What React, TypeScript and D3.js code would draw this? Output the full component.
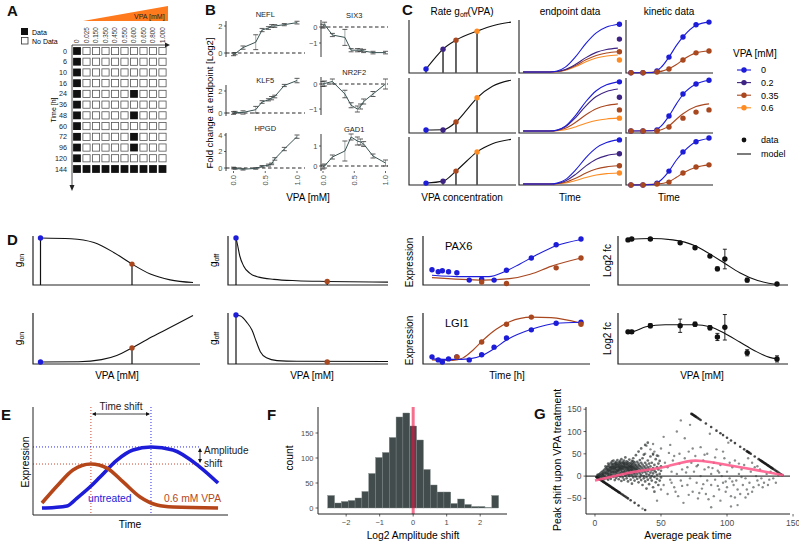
import React from "react";
import * as d3 from "d3";

type P = [number, number];

const FONT = "'Liberation Sans', Arial, Helvetica, sans-serif";
const BLUE = "#1c1cd9";
const PURPLE = "#3d2383";
const BROWN = "#a9471f";
const ORANGE = "#ff8c22";
const VPA_COLORS = [BLUE, PURPLE, BROWN, ORANGE];
const AXIS = "#222";
const TICK_TXT = "#4d4d4d";

// ---------------- Panel A data
const A_CONC = ["0", "0.025", "0.150", "0.350", "0.450", "0.550", "0.600", "0.650", "0.800", "1.000"];
const A_TIMES = [0, 6, 10, 16, 24, 36, 48, 60, 72, 96, 120, 144];
const A_MATRIX = [
  "1000000000", "1000000000", "1000000000", "1000000000",
  "1000001000", "1000000000", "1000001000", "1000000000",
  "1000001000", "1000001000", "1000000000", "1111111111",
];

// ---------------- Panel B data
const B_VPA = [0, 0.025, 0.15, 0.35, 0.45, 0.55, 0.6, 0.65, 0.8, 1.0];
const B_X_TICKS = [0, 0.5, 1.0];
const B_NEFL = [-0.1, -0.05, 0.4, 0.8, 1.7, 1.85, 2.0, 2.0, 2.1, 2.25];
const B_NEFL_ERR = [0.1, 0.08, 0.12, 0.55, 0.12, 0.1, 0.1, 0.1, 0.08, 0.1];
const B_SIX3 = [0.05, 0.15, -0.5, -0.65, -1.45, -1.45, -1.45, -1.5, -1.6, -1.6];
const B_SIX3_ERR = [0.12, 0.15, 0.1, 0.5, 0.1, 0.1, 0.08, 0.1, 0.08, 0.08];
const B_KLF5 = [0.0, 0.05, 0.05, 0.3, 1.0, 1.2, 1.35, 1.5, 2.5, 2.95];
const B_KLF5_ERR = [0.12, 0.1, 0.15, 0.3, 0.12, 0.1, 0.15, 0.12, 0.1, 0.2];
const B_NR2F2 = [0.0, 0.02, 0.1, -0.4, -0.85, -1.0, -0.9, -0.7, -0.4, 0.0];
const B_NR2F2_ERR = [0.1, 0.1, 0.1, 0.15, 0.1, 0.12, 0.1, 0.1, 0.1, 0.2];
const B_HPGD = [0.0, -0.05, -0.15, -0.05, 0.2, 0.35, 0.5, 1.1, 2.3, 3.8];
const B_HPGD_ERR = [0.1, 0.1, 0.1, 0.1, 0.1, 0.12, 0.1, 0.15, 0.2, 0.2];
const B_GAD1 = [-0.05, 0.0, 0.45, 0.75, 1.45, 1.25, 1.2, 1.1, 0.5, 0.15];
const B_GAD1_ERR = [0.1, 0.1, 0.1, 0.5, 0.15, 0.2, 0.15, 0.12, 0.1, 0.15];
const B_PANELS = [
  { name: "NEFL", vals: B_NEFL, err: B_NEFL_ERR, ticks: [0, 2] },
  { name: "SIX3", vals: B_SIX3, err: B_SIX3_ERR, ticks: [-1, 0] },
  { name: "KLF5", vals: B_KLF5, err: B_KLF5_ERR, ticks: [0, 2] },
  { name: "NR2F2", vals: B_NR2F2, err: B_NR2F2_ERR, ticks: [-1, 0] },
  { name: "HPGD", vals: B_HPGD, err: B_HPGD_ERR, ticks: [0, 2, 4] },
  { name: "GAD1", vals: B_GAD1, err: B_GAD1_ERR, ticks: [0, 1] },
];

// ---------------- Panel C data
const C_LEVELS = ["0", "0.2", "0.35", "0.6"];
const C_RATE_X = [0.159, 0.318, 0.439, 0.636];
const C_RATE_Y = [
  [0.075, 0.45, 0.62, 0.79],
  [0.055, 0.055, 0.2, 0.64],
  [0.04, 0.08, 0.29, 0.69],
];
const C_RATE_CURVES: P[][] = [
  [[0.159, 0.075], [0.25, 0.3], [0.318, 0.45], [0.439, 0.62], [0.636, 0.79], [0.8, 0.9], [0.953, 0.96]],
  [[0.159, 0.055], [0.318, 0.058], [0.439, 0.2], [0.54, 0.42], [0.636, 0.64], [0.78, 0.85], [0.953, 0.96]],
  [[0.159, 0.04], [0.318, 0.08], [0.439, 0.29], [0.54, 0.5], [0.636, 0.69], [0.78, 0.86], [0.953, 0.95]],
];
const C_SIG_T = [0.04, 0.3, 0.37, 0.45, 0.55, 0.65, 0.75, 0.85, 0.96];
const C_SIG_V = [0, 0, 0.02, 0.1, 0.32, 0.6, 0.82, 0.94, 1.0];
const C_END_BASE = [0.02, 0.036, 0.02];
const C_END_MODEL = [
  [0.92, 0.47, 0.4, 0.34],
  [0.93, 0.8, 0.53, 0.27],
  [0.94, 0.65, 0.4, 0.25],
];
const C_END_DATA_T = 0.975;
const C_END_DATA = [
  [0.92, 0.64, 0.4, 0.245],
  [0.93, 0.65, 0.42, 0.27],
  [0.94, 0.65, 0.4, 0.25],
];
const C_KIN_T = [0.057, 0.195, 0.356, 0.494, 0.655, 0.805, 0.954];
const C_KIN_BLUE = [
  [0.005, 0.005, 0.04, 0.3, 0.68, 0.91, 0.96],
  [0.036, 0.036, 0.055, 0.31, 0.71, 0.89, 0.96],
  [0.0, 0.0, 0.04, 0.29, 0.69, 0.9, 0.98],
];
const C_KIN_BROWN = [
  [0.005, 0.005, 0.02, 0.075, 0.245, 0.38, 0.415],
  [0.036, 0.036, 0.036, 0.11, 0.27, 0.38, 0.42],
  [0.0, 0.0, 0.02, 0.06, 0.25, 0.375, 0.42],
];
const C_KIN_BLUE_MODEL: P[][] = [
  [[0.023, 0.005], [0.3, 0.01], [0.4, 0.1], [0.494, 0.3], [0.58, 0.52], [0.655, 0.68], [0.805, 0.9], [0.954, 0.96]],
  [[0.023, 0.036], [0.3, 0.04], [0.4, 0.12], [0.494, 0.31], [0.58, 0.53], [0.655, 0.7], [0.805, 0.89], [0.954, 0.96]],
  [[0.023, 0.0], [0.3, 0.01], [0.4, 0.1], [0.494, 0.29], [0.58, 0.52], [0.655, 0.68], [0.805, 0.9], [0.954, 0.97]],
];
const C_KIN_BROWN_MODEL: P[][] = [
  [[0.023, 0.005], [0.356, 0.02], [0.494, 0.08], [0.58, 0.16], [0.655, 0.25], [0.805, 0.38], [0.954, 0.415]],
  [[0.023, 0.036], [0.356, 0.045], [0.494, 0.13], [0.58, 0.25], [0.655, 0.35], [0.805, 0.48], [0.954, 0.53]],
  [[0.023, 0.0], [0.356, 0.02], [0.494, 0.07], [0.58, 0.16], [0.655, 0.25], [0.805, 0.37], [0.954, 0.42]],
];

// ---------------- Panel D data
const D_GON: P[][] = [
  [[0, 1], [0.2, 0.985], [0.35, 0.9], [0.48, 0.68], [0.6, 0.42], [0.72, 0.2], [0.85, 0.07], [1, 0.01]],
  [[0, 0], [0.25, 0.005], [0.4, 0.05], [0.5, 0.14], [0.6, 0.3], [0.7, 0.48], [0.8, 0.65], [0.9, 0.82], [1, 0.99]],
];
const D_GOFF: P[][] = [
  [[0, 1], [0.01, 0.85], [0.025, 0.6], [0.05, 0.38], [0.09, 0.22], [0.15, 0.13], [0.25, 0.08], [0.4, 0.05], [0.6, 0.035], [1, 0.02]],
  [[0, 1], [0.03, 0.98], [0.07, 0.85], [0.105, 0.68], [0.135, 0.42], [0.16, 0.22], [0.2, 0.09], [0.27, 0.03], [0.4, 0.015], [1, 0.01]],
];
const D_MARK_X = [0, 0.6];
const D_TIMES = [0, 6, 10, 16, 24, 36, 48, 60, 72, 96, 120, 144];
const D_PAX6_BLUE = [0.31, 0.27, 0.29, 0.27, 0.25, 0.1, 0.12, 0.1, 0.3, 0.55, 0.82, 0.94];
const D_PAX6_BROWN_T = [48, 72, 120, 144];
const D_PAX6_BROWN = [0.06, 0.03, 0.35, 0.55];
const D_PAX6_BLUE_MODEL: P[] = [[0, 0.2], [30, 0.17], [55, 0.17], [70, 0.27], [85, 0.43], [100, 0.6], [120, 0.8], [144, 0.93]];
const D_PAX6_BROWN_MODEL: P[] = [[0, 0.15], [50, 0.1], [75, 0.13], [95, 0.22], [115, 0.38], [144, 0.55]];
const D_LGI1_BLUE = [0.14, 0.08, 0.04, 0.1, 0.14, 0.08, 0.18, 0.33, 0.51, 0.67, 0.8, 0.82];
const D_LGI1_BROWN_T = [24, 48, 72, 96, 144];
const D_LGI1_BROWN = [0.14, 0.43, 0.78, 0.92, 0.78];
const D_LGI1_BLUE_MODEL: P[] = [[0, 0.1], [20, 0.09], [36, 0.1], [48, 0.16], [60, 0.3], [72, 0.47], [96, 0.68], [120, 0.8], [144, 0.82]];
const D_LGI1_BROWN_MODEL: P[] = [[0, 0.08], [20, 0.07], [30, 0.12], [40, 0.28], [50, 0.48], [62, 0.68], [75, 0.83], [96, 0.92], [115, 0.91], [144, 0.8]];
const D_FC_VPA = [0, 0.025, 0.15, 0.35, 0.45, 0.55, 0.6, 0.65, 0.8, 1.0];
const D_FC_PAX6 = [0.92, 0.94, 0.94, 0.86, 0.76, 0.59, 0.33, 0.53, 0.1, 0.02];
const D_FC_PAX6_ERR = [0.02, 0.02, 0.02, 0.03, 0.03, 0.03, 0.04, 0.2, 0.04, 0.03];
const D_FC_LGI1 = [0.63, 0.63, 0.75, 0.75, 0.78, 0.71, 0.53, 0.72, 0.22, 0.1];
const D_FC_LGI1_ERR = [0.03, 0.03, 0.04, 0.13, 0.04, 0.04, 0.07, 0.25, 0.06, 0.06];
const D_FC_PAX6_MODEL: P[] = [[0, 0.93], [0.15, 0.95], [0.3, 0.92], [0.45, 0.8], [0.55, 0.63], [0.65, 0.44], [0.75, 0.25], [0.87, 0.09], [1, 0.01]];
const D_FC_LGI1_MODEL: P[] = [[0, 0.63], [0.04, 0.64], [0.12, 0.73], [0.25, 0.77], [0.45, 0.77], [0.55, 0.73], [0.65, 0.6], [0.75, 0.43], [0.85, 0.26], [0.95, 0.13], [1, 0.1]];

// ---------------- Panel E data
const E_UNTREATED: P[] = [[0.046, 0.065], [0.11, 0.07], [0.174, 0.083], [0.226, 0.157], [0.292, 0.259], [0.344, 0.352], [0.431, 0.509], [0.513, 0.602], [0.605, 0.63], [0.718, 0.602], [0.856, 0.444], [0.949, 0.296]];
const E_TREATED: P[] = [[0.046, 0.111], [0.128, 0.278], [0.205, 0.417], [0.297, 0.472], [0.379, 0.435], [0.462, 0.306], [0.549, 0.167], [0.636, 0.093], [0.718, 0.074], [0.949, 0.065]];

// ---------------- Panel F data
const F_BIN_START = -2.55;
const F_BIN_WIDTH = 0.204;
const F_COUNTS = [25, 10, 13, 15, 20, 33, 69, 101, 111, 141, 182, 190, 164, 136, 77, 46, 32, 32, 9, 18, 7, 3, 3, 1, 25];
const F_X_TICKS = [-2, -1, 0, 1, 2];
const F_Y_TICKS = [0, 50, 100, 150];

// ---------------- Panel G data
const G_CLUSTER: P[] = [
  [2, 1], [2, -2], [2, 3], [3, 4], [3, -1], [3, 0], [4, 6], [4, -3], [4, 2], [5, 9], [5, -1], [5, 4], [5, -6],
  [6, 11], [6, 2], [6, -4], [6, 6], [7, 14], [7, 0], [7, 8], [7, -7], [8, 4], [8, 17], [8, 10], [8, -2],
  [9, 12], [9, 20], [9, -5], [9, 6], [10, 15], [10, 1], [10, 23], [10, 8], [10, -8], [11, 18], [11, 4], [11, 26], [11, 11], [11, -3],
  [12, 21], [12, 7], [12, 14], [12, 30], [12, -6], [12, 0], [13, 16], [13, 24], [13, 3], [13, 10], [13, 33],
  [14, 19], [14, 27], [14, -2], [14, 12], [14, 6], [14, 35], [15, 22], [15, 9], [15, 30], [15, 15], [15, -9], [15, 2],
  [16, 25], [16, 13], [16, 18], [16, 5], [16, 32], [16, -4], [17, 20], [17, 28], [17, 8], [17, 14], [17, 36], [17, 0],
  [18, 23], [18, 11], [18, 31], [18, 17], [18, -7], [18, 4], [19, 26], [19, 15], [19, 21], [19, 7], [19, 34], [19, -1],
  [20, 29], [20, 18], [20, 12], [20, 24], [20, 3], [20, 38], [20, -11], [21, 22], [21, 32], [21, 9], [21, 16], [21, -3],
  [22, 27], [22, 14], [22, 20], [22, 5], [22, 35], [22, -8], [23, 24], [23, 30], [23, 11], [23, 17], [23, 1], [23, 42],
  [24, 21], [24, 28], [24, 8], [24, 14], [24, -5], [24, 33], [25, 26], [25, 18], [25, 4], [25, 31], [25, -12], [25, 12],
  [26, 23], [26, 9], [26, 37], [26, 15], [26, 0], [26, 28], [27, 20], [27, 30], [27, 6], [27, 13], [27, -8], [27, 25],
  [28, 17], [28, 34], [28, 2], [28, 24], [28, 10], [28, -17], [29, 22], [29, 28], [29, 7], [29, 14], [29, -3], [29, 40],
  [30, 19], [30, 12], [30, 31], [30, -10], [30, 4], [30, 25], [31, 16], [31, 26], [31, -1], [31, 9], [31, 47],
  [32, 21], [32, 13], [32, 32], [32, -6], [32, 5], [33, 18], [33, 28], [33, -14], [33, 10], [33, 55],
  [34, 23], [34, 6], [34, 15], [34, -3], [34, 36], [35, 12], [35, 30], [35, -9], [35, 20], [35, 2], [35, 62],
  [36, 17], [36, -20], [36, 8], [36, 26], [36, 40], [37, 13], [37, -5], [37, 22], [37, 0], [37, 48],
  [38, 19], [38, 9], [38, -12], [38, 30], [38, 70], [39, 15], [39, -2], [39, 25], [39, 5], [39, -28],
  [40, 11], [40, 20], [40, -8], [40, 35], [40, 75], [41, 3], [41, 16], [41, -18], [41, 28], [42, 22], [42, 8], [42, -4], [42, 44],
  [43, 13], [43, -10], [43, 30], [43, 0], [44, 18], [44, -25], [44, 6], [44, 50], [45, 25], [45, -2], [45, 12], [45, -35],
  [46, 9], [46, 38], [46, -14], [47, 20], [47, -6], [47, 3], [47, 46], [48, 15], [48, -20], [48, 28], [49, 5], [49, 34], [49, -10],
  [50, 22], [50, -3], [50, 12],
  [8, 22], [10, 28], [12, 18], [14, 22], [16, 28], [18, 26], [20, 22], [22, 30], [24, 26], [26, 20], [28, 28], [30, 16],
  [15, 26], [17, 24], [19, 18], [21, 28], [23, 20], [25, 22], [27, 17], [29, 19], [31, 22], [33, 24], [13, 20], [11, 14],
  [9, 16], [11, 21], [13, 27], [15, 18], [17, 12], [19, 30], [21, 19], [23, 7], [25, 15], [27, 22], [29, 33], [31, 12],
  [6, 4], [8, 7], [10, 12], [12, 10], [14, 16], [16, 21], [18, 14], [20, 8], [22, 24], [24, 18], [26, 12], [28, 20],
  [10, 5], [12, 3], [14, 9], [16, 9], [18, 20], [20, 15], [22, 9], [24, 4], [26, 5], [28, 14], [30, 8], [32, 17],
];
const G_SPARSE: P[] = [
  [38, 50], [39, 68], [42, 60], [44, 48], [45, 55], [47, -55], [48, 45], [50, 62], [50, -30], [52, -20], [53, 30],
  [55, 20], [55, -40], [57, 70], [58, 10], [58, -15], [60, 45], [60, -25], [62, 100], [62, 5], [63, -45], [64, 28],
  [65, -10], [65, 125], [66, 15], [67, -60], [68, 40], [68, 85], [70, -20], [70, 20], [71, 55], [72, -5], [72, 115],
  [73, 30], [74, -35], [75, 10], [76, 45], [77, -15], [78, 25], [78, -50], [80, 65], [80, 0], [81, -28], [82, 35],
  [83, 15], [84, -40], [85, 50], [85, -10], [86, 20], [87, 95], [88, -20], [88, 5], [90, 30], [90, -45], [91, -8],
  [92, 60], [93, 12], [94, -30], [95, -55], [95, 25], [96, 0], [97, -15], [98, 40], [99, -35], [100, 10], [100, -25],
  [101, 75], [102, -5], [103, -45], [104, 20], [105, -20], [106, 35], [107, -10], [108, -30], [108, -65], [109, 5],
  [110, -40], [111, 15], [112, -20], [113, 25], [114, -5], [115, -30], [116, 40], [117, -15], [118, 10], [119, -35],
  [120, -25], [121, 20], [122, 0], [123, -10], [124, -20], [125, 15], [126, -5], [128, -15], [130, 5], [131, -20],
  [133, 10], [135, -5], [137, -15], [139, 2], [88, -70], [36, -73], [103, -68], [56, 52], [61, -35], [69, 8],
  [79, -38], [83, 48], [89, 18], [93, -22], [97, 55], [104, -12], [109, 28], [114, -48], [119, 30], [123, 22],
  [127, -25], [132, -8], [59, 35], [66, -22], [74, 62], [86, -52], [91, 42], [99, -12], [106, -48], [111, -2],
  [44, 72], [52, 88], [57, -8], [64, 50], [71, -42], [77, 22], [82, -18], [94, 8], [102, 30], [116, -40],
];
const G_EDGE_LOW: P[] = [
  [1, -2], [1.5, -3], [2, -4], [2.5, -5], [3, -6], [3.5, -7], [4, -8], [4.5, -9], [5, -10], [5.5, -11], [6, -12],
  [6.5, -13], [7, -14], [7.5, -15], [8, -16], [8.5, -17], [9, -18], [9.5, -19], [10, -20], [10.5, -21], [11, -22],
  [11.5, -23], [12, -24], [12.5, -25], [13, -26], [13.5, -27], [14, -28], [14.5, -29], [15, -30], [15.5, -31],
  [16, -32], [16.5, -33], [17, -34], [17.5, -35], [18, -36], [18.5, -37], [19, -38], [20, -40], [21, -42], [22, -44],
  [23, -46], [24, -48], [25, -50], [27, -54], [30, -60], [33, -66], [38, -76],
];
const G_EDGE_HIGH: P[] = [
  [73, 140], [73.5, 139], [74, 138], [74.5, 137], [75, 136], [75.5, 135], [76, 134], [76.5, 133], [77, 132], [78, 130],
  [79, 128], [80, 126], [84, 118], [88, 110], [92, 102], [95, 96], [97, 92], [100, 86], [103, 80], [106, 74], [110, 66],
  [113, 60], [115, 56], [115.5, 55], [116, 54], [116.5, 53], [117, 52], [118, 50], [121, 44], [124, 38], [125, 36],
  [125.5, 35], [126, 34], [126.5, 33], [127, 32], [127.5, 31], [128, 30], [128.5, 29], [129, 28], [129.5, 27], [130, 26],
  [130.5, 25], [131, 24], [131.5, 23], [132, 22], [132.5, 21], [133, 20], [133.5, 19], [134, 18], [134.5, 17], [135, 16],
  [136, 14], [137, 12], [138, 10], [139, 8], [140, 6], [141, 4], [142, 2],
];
const G_LOESS: P[] = [[0, -10], [10, -3], [20, 4], [30, 10], [45, 16], [55, 22], [65, 30], [73, 35], [80, 35], [95, 28], [110, 20], [125, 12], [143, 2]];
const G_X_TICKS = [0, 50, 100, 150];
const G_Y_TICKS = [-50, 0, 50, 100, 150];

// ---------------- helpers
type S = (v: number) => number;
const linePath = (pts: P[], sx: S, sy: S, curve: d3.CurveFactory = d3.curveMonotoneX) =>
  d3.line<P>().x((d) => sx(d[0])).y((d) => sy(d[1])).curve(curve)(pts) ?? "";
const fmtNum = (v: number) => (v < 0 ? "\u2212" + Math.abs(v) : String(v));

const Letter = ({ x, y, t }: { x: number; y: number; t: string }) => (
  <text x={x} y={y} fontSize={15} fontWeight="bold" fill="#111">{t}</text>
);

const LAxes = ({ x0, x1, y0, y1, w = 1 }: { x0: number; x1: number; y0: number; y1: number; w?: number }) => (
  <path d={`M${x0},${y0}V${y1}H${x1}`} fill="none" stroke={AXIS} strokeWidth={w} />
);

// ---------------- Panel A
function PanelA() {
  const cx = d3.scalePoint<string>().domain(A_CONC).range([77, 162.5]);
  const cy = d3.scalePoint<number>().domain(A_TIMES).range([51, 169]);
  return (
    <g>
      <Letter x={7} y={16} t="A" />
      <rect x={21} y={28} width={7} height={7} fill="#111" />
      <text x={32} y={34.5} fontSize={7}>Data</text>
      <rect x={21.5} y={37.5} width={6.5} height={6.5} fill="#fff" stroke="#333" strokeWidth={0.8} />
      <text x={32} y={43.5} fontSize={7}>No Data</text>
      <polygon points="83,21 168,6 168,21" fill="#ff7a1c" />
      <text x={134} y={19} fontSize={7} fill="#222">VPA [mM]</text>
      {A_CONC.map((c) => (
        <text key={c} transform={`translate(${(cx(c) ?? 0) + 2.4},43) rotate(-90)`} fontSize={6.3} fill="#333">{c}</text>
      ))}
      <line x1={72} y1={45} x2={166} y2={45} stroke={AXIS} strokeWidth={0.8} />
      <polygon points="165,42.5 165,47.5 170,45" fill={AXIS} />
      <line x1={72} y1={45} x2={72} y2={186} stroke={AXIS} strokeWidth={0.8} />
      <polygon points="69.5,185 74.5,185 72,191" fill={AXIS} />
      {A_TIMES.map((t) => (
        <text key={t} x={67} y={(cy(t) ?? 0) + 2.5} textAnchor="end" fontSize={7.2} fill="#222">{t}</text>
      ))}
      <text transform="translate(55.5,110) rotate(-90)" textAnchor="middle" fontSize={7}>Time [h]</text>
      {A_MATRIX.map((row, i) =>
        row.split("").map((v, j) => {
          const x = (cx(A_CONC[j]) ?? 0) - 3.6;
          const y = (cy(A_TIMES[i]) ?? 0) - 3.6;
          return v === "1" ? (
            <rect key={`${i}-${j}`} x={x - 0.3} y={y - 0.3} width={7.8} height={7.8} fill="#111" />
          ) : (
            <rect key={`${i}-${j}`} x={x} y={y} width={7.2} height={7.2} fill="#fff" stroke="#555" strokeWidth={0.8} />
          );
        })
      )}
    </g>
  );
}

// ---------------- Panel B
const B_BOX = [
  { ax: 226, x0: 233.5, x1: 297, right: 305, title: 17, top: 21, bottom: 57, d: [0, 2], r: [53, 26] },
  { ax: 321, x0: 323, x1: 385.5, right: 388, title: 18, top: 20, bottom: 57, d: [-1, 0], r: [43, 27] },
  { ax: 226, x0: 233.5, x1: 297, right: 305, title: 83, top: 85, bottom: 116, d: [0, 2], r: [113, 91] },
  { ax: 321, x0: 323, x1: 385.5, right: 388, title: 75, top: 77, bottom: 115, d: [-1, 0], r: [109, 84] },
  { ax: 226, x0: 233.5, x1: 297, right: 305, title: 130.5, top: 133, bottom: 171, d: [0, 4], r: [168, 135] },
  { ax: 321, x0: 323, x1: 385.5, right: 388, title: 132, top: 134, bottom: 171, d: [0, 1], r: [166, 146] },
];

function PanelB() {
  return (
    <g>
      <Letter x={205} y={15} t="B" />
      {B_PANELS.map((p, i) => {
        const b = B_BOX[i];
        const sx = d3.scaleLinear().domain([0, 1]).range([b.x0, b.x1]);
        const sy = d3.scaleLinear().domain(b.d).range(b.r);
        const pts: P[] = B_VPA.map((v, k) => [v, p.vals[k]]);
        return (
          <g key={p.name}>
            <text x={(b.x0 + b.x1) / 2} y={b.title} textAnchor="middle" fontSize={7.5} fill="#222">{p.name}</text>
            <line x1={b.ax} x2={b.right} y1={sy(0)} y2={sy(0)} stroke="#111" strokeDasharray="3.5,2.5" strokeWidth={0.9} />
            <line x1={b.ax} x2={b.ax} y1={b.top} y2={b.bottom} stroke={AXIS} strokeWidth={0.9} />
            {p.ticks.map((t) => (
              <g key={t}>
                <line x1={b.ax - 2} x2={b.ax} y1={sy(t)} y2={sy(t)} stroke={AXIS} strokeWidth={0.7} />
                <text x={b.ax - 3.5} y={sy(t) + 2.6} textAnchor="end" fontSize={7.5} fill={TICK_TXT}>{fmtNum(t)}</text>
              </g>
            ))}
            {B_VPA.map((v, k) => (
              <g key={k} stroke="#8c9494" strokeWidth={0.8}>
                <line x1={sx(v)} x2={sx(v)} y1={sy(p.vals[k] - p.err[k])} y2={sy(p.vals[k] + p.err[k])} />
                <line x1={sx(v) - 2.5} x2={sx(v) + 2.5} y1={sy(p.vals[k] - p.err[k])} y2={sy(p.vals[k] - p.err[k])} stroke="#333" />
                <line x1={sx(v) - 2.5} x2={sx(v) + 2.5} y1={sy(p.vals[k] + p.err[k])} y2={sy(p.vals[k] + p.err[k])} stroke="#333" />
              </g>
            ))}
            <path d={linePath(pts, sx, sy, d3.curveLinear)} fill="none" stroke="#3a5252" strokeWidth={1} />
            {i >= 4 &&
              B_X_TICKS.map((t) => (
                <g key={t}>
                  <line x1={sx(t)} x2={sx(t)} y1={b.bottom} y2={b.bottom + 2} stroke={AXIS} strokeWidth={0.7} />
                  <text transform={`translate(${sx(t) + 2.6},${b.bottom + 4}) rotate(-90)`} textAnchor="end" fontSize={7.5} fill={TICK_TXT}>{t.toFixed(1)}</text>
                </g>
              ))}
          </g>
        );
      })}
      <text transform="translate(213,103) rotate(-90)" textAnchor="middle" fontSize={9.5}>Fold change at endpoint [Log2]</text>
      <text x={308} y={201} textAnchor="middle" fontSize={10}>VPA [mM]</text>
    </g>
  );
}

// ---------------- Panel C
const C_ROWS = [{ top: 20, bottom: 73 }, { top: 78, bottom: 133 }, { top: 137, bottom: 185 }];
const C_RATE_R = [409, 516];
const C_END_R = [519, 622];
const C_KIN_R = [626, 713];

function PanelC() {
  const sxR = d3.scaleLinear().domain([0, 1]).range(C_RATE_R);
  const sxE = d3.scaleLinear().domain([0, 1]).range(C_END_R);
  const sxK = d3.scaleLinear().domain([0, 1]).range(C_KIN_R);
  return (
    <g>
      <Letter x={402} y={15} t="C" />
      <text x={462} y={15} textAnchor="middle" fontSize={10}>
        Rate g<tspan fontSize={7} dy={2}>off</tspan><tspan dy={-2}>(VPA)</tspan>
      </text>
      <text x={570} y={15} textAnchor="middle" fontSize={10}>endpoint data</text>
      <text x={669} y={15} textAnchor="middle" fontSize={10}>kinetic data</text>
      {C_ROWS.map((r, ri) => {
        const sy = d3.scaleLinear().domain([0, 1]).range([r.bottom, r.top]);
        const endCurves = C_END_MODEL[ri].map((fin) => {
          const base = C_END_BASE[ri];
          return C_SIG_T.map((t, k) => [t, base + (fin - base) * C_SIG_V[k]] as P);
        });
        return (
          <g key={ri}>
            <LAxes x0={C_RATE_R[0]} x1={C_RATE_R[1]} y0={r.top} y1={r.bottom} w={1.1} />
            <LAxes x0={C_END_R[0]} x1={C_END_R[1]} y0={r.top} y1={r.bottom} w={1.1} />
            <LAxes x0={C_KIN_R[0]} x1={C_KIN_R[1]} y0={r.top} y1={r.bottom} w={1.1} />
            {C_RATE_X.map((x, k) => (
              <line key={k} x1={sxR(x)} x2={sxR(x)} y1={sy(C_RATE_Y[ri][k])} y2={r.bottom} stroke="#555" strokeWidth={1.8} />
            ))}
            <path d={linePath(C_RATE_CURVES[ri], sxR, sy)} fill="none" stroke="#111" strokeWidth={1.1} />
            {C_RATE_X.map((x, k) => (
              <circle key={k} cx={sxR(x)} cy={sy(C_RATE_Y[ri][k])} r={2.7} fill={VPA_COLORS[k]} />
            ))}
            {endCurves.map((c, k) => (
              <path key={k} d={linePath(c, sxE, sy)} fill="none" stroke={VPA_COLORS[k]} strokeWidth={1.1} />
            )).reverse()}
            {C_END_DATA[ri].map((v, k) => (
              <circle key={k} cx={sxE(C_END_DATA_T)} cy={sy(v)} r={2.7} fill={VPA_COLORS[k]} />
            ))}
            <path d={linePath(C_KIN_BROWN_MODEL[ri], sxK, sy)} fill="none" stroke={BROWN} strokeWidth={1.1} />
            <path d={linePath(C_KIN_BLUE_MODEL[ri], sxK, sy)} fill="none" stroke={BLUE} strokeWidth={1.1} />
            {C_KIN_T.map((t, k) => (
              <circle key={"b" + k} cx={sxK(t)} cy={sy(C_KIN_BLUE[ri][k])} r={2.7} fill={BLUE} />
            ))}
            {C_KIN_T.map((t, k) => (
              <circle key={"r" + k} cx={sxK(t)} cy={sy(C_KIN_BROWN[ri][k])} r={2.7} fill={BROWN} />
            ))}
          </g>
        );
      })}
      <text x={462} y={201} textAnchor="middle" fontSize={10}>VPA concentration</text>
      <text x={570} y={201} textAnchor="middle" fontSize={10}>Time</text>
      <text x={669} y={201} textAnchor="middle" fontSize={10}>Time</text>
      <text x={733} y={57} fontSize={10}>VPA [mM]</text>
      {C_LEVELS.map((l, k) => {
        const y = 70 + k * 12.6;
        return (
          <g key={l}>
            <line x1={737} x2={751} y1={y} y2={y} stroke={VPA_COLORS[k]} strokeWidth={1.1} />
            <circle cx={744} cy={y} r={2.7} fill={VPA_COLORS[k]} />
            <text x={761} y={y + 3.3} fontSize={9}>{l}</text>
          </g>
        );
      })}
      <circle cx={744} cy={140} r={2.4} fill="#111" />
      <text x={761} y={143.3} fontSize={9}>data</text>
      <line x1={737} x2={751} y1={154} y2={154} stroke="#111" strokeWidth={1.1} />
      <text x={761} y={157.3} fontSize={9}>model</text>
    </g>
  );
}

// ---------------- Panel D
const D_ROWS = [{ top: 236, bottom: 285 }, { top: 313, bottom: 364 }];

function PanelD() {
  const sx1 = d3.scaleLinear().domain([0, 1]).range([40.5, 193]);
  const sx2 = d3.scaleLinear().domain([0, 1]).range([236, 388]);
  const sxT = d3.scaleLinear().domain([0, 144]).range([432, 581]);
  const sxF = d3.scaleLinear().domain([0, 1]).range([628, 777]);
  const expr = [
    { name: "PAX6", blue: D_PAX6_BLUE, bt: D_PAX6_BROWN_T, brown: D_PAX6_BROWN, bm: D_PAX6_BLUE_MODEL, rm: D_PAX6_BROWN_MODEL, fc: D_FC_PAX6, fe: D_FC_PAX6_ERR, fm: D_FC_PAX6_MODEL },
    { name: "LGI1", blue: D_LGI1_BLUE, bt: D_LGI1_BROWN_T, brown: D_LGI1_BROWN, bm: D_LGI1_BLUE_MODEL, rm: D_LGI1_BROWN_MODEL, fc: D_FC_LGI1, fe: D_FC_LGI1_ERR, fm: D_FC_LGI1_MODEL },
  ];
  return (
    <g>
      <Letter x={7} y={245} t="D" />
      {D_ROWS.map((r, ri) => {
        const sy = d3.scaleLinear().domain([0, 1]).range([r.bottom - 2, r.top + 2]);
        const syE = d3.scaleLinear().domain([0, 1]).range([r.bottom, r.top]);
        const mid = (r.top + r.bottom) / 2;
        const gon = D_GON[ri];
        const goff = D_GOFF[ri];
        const yAt = (c: P[], x: number) => c.find((p) => p[0] === x)?.[1] ?? 0;
        const e = expr[ri];
        return (
          <g key={ri}>
            <LAxes x0={33} x1={200} y0={r.top} y1={r.bottom} w={1.2} />
            <LAxes x0={228} x1={388} y0={r.top} y1={r.bottom} w={1.2} />
            <LAxes x0={423} x1={590} y0={r.top} y1={r.bottom} w={1.2} />
            <LAxes x0={618} x1={788} y0={r.top} y1={r.bottom} w={1.2} />
            {D_MARK_X.map((x, k) => (
              <line key={k} x1={sx1(x)} x2={sx1(x)} y1={sy(yAt(gon, x))} y2={r.bottom} stroke="#111" strokeWidth={1.2} />
            ))}
            <path d={linePath(gon, sx1, sy)} fill="none" stroke="#111" strokeWidth={1.1} />
            {D_MARK_X.map((x, k) => (
              <circle key={k} cx={sx1(x)} cy={sy(yAt(gon, x))} r={2.7} fill={k === 0 ? BLUE : BROWN} />
            ))}
            <text transform={`translate(22,${mid}) rotate(-90)`} textAnchor="middle" fontSize={10}>
              g<tspan fontSize={7} dy={2}>on</tspan>
            </text>
            {D_MARK_X.map((x, k) => (
              <line key={k} x1={sx2(x)} x2={sx2(x)} y1={sy(yAt(goff, x))} y2={r.bottom} stroke="#111" strokeWidth={1.2} />
            ))}
            <path d={linePath(goff, sx2, sy)} fill="none" stroke="#111" strokeWidth={1.1} />
            {D_MARK_X.map((x, k) => (
              <circle key={k} cx={sx2(x)} cy={sy(yAt(goff, x))} r={2.7} fill={k === 0 ? BLUE : BROWN} />
            ))}
            <text transform={`translate(217,${mid}) rotate(-90)`} textAnchor="middle" fontSize={10}>
              g<tspan fontSize={7} dy={2}>off</tspan>
            </text>
            <text transform={`translate(413,${mid + 2}) rotate(-90)`} textAnchor="middle" fontSize={10}>Expression</text>
            <text x={445} y={r.top + 14} fontSize={11}>{e.name}</text>
            <path d={linePath(e.rm, sxT, syE)} fill="none" stroke={BROWN} strokeWidth={1.1} />
            <path d={linePath(e.bm, sxT, syE)} fill="none" stroke={BLUE} strokeWidth={1.1} />
            {D_TIMES.map((t, k) => (
              <circle key={"b" + k} cx={sxT(t)} cy={syE(e.blue[k])} r={2.7} fill={BLUE} />
            ))}
            {e.bt.map((t, k) => (
              <circle key={"r" + k} cx={sxT(t)} cy={syE(e.brown[k])} r={2.7} fill={BROWN} />
            ))}
            <text transform={`translate(611,${mid}) rotate(-90)`} textAnchor="middle" fontSize={10}>Log2 fc</text>
            <path d={linePath(e.fm, sxF, syE)} fill="none" stroke="#111" strokeWidth={1.1} />
            {D_FC_VPA.map((v, k) => (
              <g key={k} stroke="#111" strokeWidth={0.9}>
                <line x1={sxF(v)} x2={sxF(v)} y1={syE(e.fc[k] - e.fe[k])} y2={syE(e.fc[k] + e.fe[k])} />
                <line x1={sxF(v) - 2} x2={sxF(v) + 2} y1={syE(e.fc[k] - e.fe[k])} y2={syE(e.fc[k] - e.fe[k])} />
                <line x1={sxF(v) - 2} x2={sxF(v) + 2} y1={syE(e.fc[k] + e.fe[k])} y2={syE(e.fc[k] + e.fe[k])} />
                <circle cx={sxF(v)} cy={syE(e.fc[k])} r={2.7} fill="#111" stroke="none" />
              </g>
            ))}
          </g>
        );
      })}
      <text x={117} y={379} textAnchor="middle" fontSize={10}>VPA [mM]</text>
      <text x={312} y={379} textAnchor="middle" fontSize={10}>VPA [mM]</text>
      <text x={507} y={379} textAnchor="middle" fontSize={10}>Time [h]</text>
      <text x={702} y={379} textAnchor="middle" fontSize={10}>VPA [mM]</text>
    </g>
  );
}

// ---------------- Panel E
function PanelE() {
  const sx = d3.scaleLinear().domain([0, 1]).range([33, 228]);
  const sy = d3.scaleLinear().domain([0, 1]).range([515, 407]);
  const pkB = E_UNTREATED.reduce((a, b) => (b[1] > a[1] ? b : a));
  const pkR = E_TREATED.reduce((a, b) => (b[1] > a[1] ? b : a));
  const redD = "#c8452f";
  const bluD = "#2a2ae8";
  return (
    <g>
      <Letter x={1} y={420} t="E" />
      <line x1={sx(pkR[0])} x2={sx(pkR[0])} y1={407} y2={515} stroke={redD} strokeWidth={1} strokeDasharray="1,2" />
      <line x1={sx(pkB[0])} x2={sx(pkB[0])} y1={407} y2={515} stroke={bluD} strokeWidth={1} strokeDasharray="1,2" />
      <line x1={33} x2={200} y1={sy(pkB[1])} y2={sy(pkB[1])} stroke={bluD} strokeWidth={1} strokeDasharray="1,2" />
      <line x1={33} x2={200} y1={sy(pkR[1])} y2={sy(pkR[1])} stroke={redD} strokeWidth={1} strokeDasharray="1,2" />
      <path d={linePath(E_UNTREATED, sx, sy)} fill="none" stroke={BLUE} strokeWidth={3.6} />
      <path d={linePath(E_TREATED, sx, sy)} fill="none" stroke="#b5461a" strokeWidth={3.6} />
      <LAxes x0={33} x1={228} y0={407} y1={515} w={1} />
      <line x1={sx(pkR[0]) + 2} x2={sx(pkB[0]) - 2} y1={414} y2={414} stroke="#111" strokeWidth={0.8} />
      <polygon points={`${sx(pkR[0]) + 1},414 ${sx(pkR[0]) + 5},412 ${sx(pkR[0]) + 5},416`} fill="#111" />
      <polygon points={`${sx(pkB[0]) - 1},414 ${sx(pkB[0]) - 5},412 ${sx(pkB[0]) - 5},416`} fill="#111" />
      <text x={(sx(pkR[0]) + sx(pkB[0])) / 2} y={410} textAnchor="middle" fontSize={10} fill="#222">Time shift</text>
      <line x1={200} x2={200} y1={sy(pkB[1]) + 2} y2={sy(pkR[1]) - 2} stroke="#111" strokeWidth={0.8} />
      <polygon points={`200,${sy(pkB[1]) + 1} 198,${sy(pkB[1]) + 5} 202,${sy(pkB[1]) + 5}`} fill="#111" />
      <polygon points={`200,${sy(pkR[1]) - 1} 198,${sy(pkR[1]) - 5} 202,${sy(pkR[1]) - 5}`} fill="#111" />
      <text x={204} y={454} fontSize={10} fill="#222">Amplitude</text>
      <text x={204} y={467} fontSize={10} fill="#222">shift</text>
      <text x={88} y={502} fontSize={10.3} fill={BLUE}>untreated</text>
      <text x={164} y={502} fontSize={10.3} fill="#b5461a">0.6 mM VPA</text>
      <text transform="translate(29,462) rotate(-90)" textAnchor="middle" fontSize={10.3}>Expression</text>
      <text x={130} y={528} textAnchor="middle" fontSize={10.3}>Time</text>
    </g>
  );
}

// ---------------- Panel F
function PanelF() {
  const sx = d3.scaleLinear().domain([-2.84, 2.8]).range([318, 507]);
  const sy = d3.scaleLinear().domain([-12, 202]).range([514, 407]);
  return (
    <g>
      <Letter x={267} y={420} t="F" />
      {F_COUNTS.map((c, i) => {
        const x0 = F_BIN_START + i * F_BIN_WIDTH;
        return (
          <rect key={i} x={sx(x0)} y={sy(c)} width={sx(x0 + F_BIN_WIDTH) - sx(x0)} height={sy(0) - sy(c)} fill="#424c4c" stroke="#7d8787" strokeWidth={0.4} />
        );
      })}
      <line x1={sx(0)} x2={sx(0)} y1={407} y2={514} stroke="#ee1144" strokeOpacity={0.6} strokeWidth={3} />
      <LAxes x0={318} x1={507} y0={407} y1={514} w={1} />
      {F_Y_TICKS.map((t) => (
        <g key={t}>
          <line x1={315.5} x2={318} y1={sy(t)} y2={sy(t)} stroke={AXIS} strokeWidth={0.7} />
          <text x={313.5} y={sy(t) + 2.6} textAnchor="end" fontSize={7.5} fill={TICK_TXT}>{t}</text>
        </g>
      ))}
      {F_X_TICKS.map((t) => (
        <g key={t}>
          <line x1={sx(t)} x2={sx(t)} y1={514} y2={516.5} stroke={AXIS} strokeWidth={0.7} />
          <text x={sx(t)} y={524.5} textAnchor="middle" fontSize={7.5} fill={TICK_TXT}>{fmtNum(t)}</text>
        </g>
      ))}
      <text transform="translate(293,458) rotate(-90)" textAnchor="middle" fontSize={10.3}>count</text>
      <text x={413} y={539} textAnchor="middle" fontSize={10.3}>Log2 Amplitude shift</text>
    </g>
  );
}

// ---------------- Panel G
function PanelG() {
  const sx = d3.scaleLinear().domain([-6.8, 147.7]).range([586, 790]);
  const sy = d3.scaleLinear().domain([-85, 155]).range([514, 407]);
  return (
    <g>
      <Letter x={534} y={419} t="G" />
      <line x1={586} x2={790} y1={sy(0)} y2={sy(0)} stroke="#111" strokeWidth={1} />
      {G_SPARSE.map((p, i) => (
        <circle key={i} cx={sx(p[0])} cy={sy(p[1])} r={1.2} fill="#3a3f3f" fillOpacity={0.6} />
      ))}
      {G_CLUSTER.map((p, i) => (
        <circle key={"c" + i} cx={sx(p[0])} cy={sy(p[1])} r={1.35} fill="#2a2f2f" fillOpacity={0.7} />
      ))}
      {G_EDGE_LOW.concat(G_EDGE_HIGH).map((p, i) => (
        <circle key={"e" + i} cx={sx(p[0])} cy={sy(p[1])} r={1.3} fill="#1a1a1a" fillOpacity={0.8} />
      ))}
      <path d={linePath(G_LOESS, sx, sy, d3.curveBasis)} fill="none" stroke="#ff5a8a" strokeOpacity={0.88} strokeWidth={2.6} />
      <LAxes x0={586} x1={790} y0={407} y1={514} w={1} />
      {G_Y_TICKS.map((t) => (
        <g key={t}>
          <line x1={583.5} x2={586} y1={sy(t)} y2={sy(t)} stroke={AXIS} strokeWidth={0.7} />
          <text x={581.5} y={sy(t) + 3} textAnchor="end" fontSize={8.5} fill={TICK_TXT}>{fmtNum(t)}</text>
        </g>
      ))}
      {G_X_TICKS.map((t) => (
        <g key={t}>
          <line x1={sx(t)} x2={sx(t)} y1={514} y2={516.5} stroke={AXIS} strokeWidth={0.7} />
          <text x={sx(t)} y={525.5} textAnchor="middle" fontSize={8.5} fill={TICK_TXT}>{t}</text>
        </g>
      ))}
      <text transform="translate(561,460) rotate(-90)" textAnchor="middle" fontSize={10.5}>Peak shift upon VPA treatment</text>
      <text x={688} y={539} textAnchor="middle" fontSize={10.5}>Average peak time</text>
    </g>
  );
}

export default function App() {
  return (
    <svg
      width={799}
      height={543}
      viewBox="0 0 799 543"
      style={{ position: "absolute", left: 0, top: 0, background: "#fff" }}
      fontFamily={FONT}
    >
      <rect x={0} y={0} width={799} height={543} fill="#fff" />
      <PanelA />
      <PanelB />
      <PanelC />
      <PanelD />
      <PanelE />
      <PanelF />
      <PanelG />
    </svg>
  );
}
